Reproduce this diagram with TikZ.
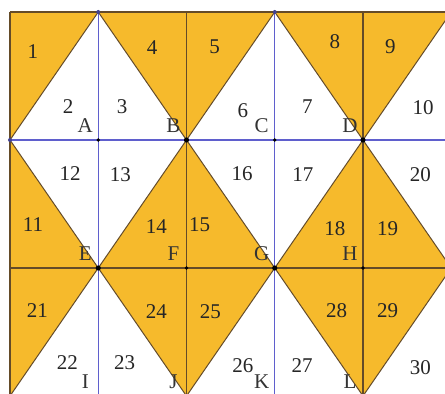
\documentclass[tikz,border=0pt]{standalone}
\usepackage{fontspec}
\setmainfont{Liberation Serif}
\definecolor{tile}{RGB}{246,186,44}
\definecolor{seam}{RGB}{100,75,40}
\definecolor{guide}{RGB}{95,95,205}
\tikzset{
  num/.style={font=\fontsize{21}{25}\selectfont, inner sep=0pt, text=black!85},
  pname/.style={font=\fontsize{21}{25}\selectfont, inner sep=0pt, text=black!80},
}
\begin{document}
\begin{tikzpicture}[x=88.25pt, y=-128pt]
      \useasboundingbox (-0.1133,-0.09375) rectangle (4.9292,2.9844);
      \clip (-0.1133,-0.09375) rectangle (4.9292,2.9844);

      % tiles
      \fill[tile] (0,0) rectangle (6,3);
      \foreach \k in {0,2,4} {
        \fill[white] (\k,1) -- (\k+1,0) -- (\k+2,1) -- cycle;
        \fill[white] (\k,1) -- (\k+1,2) -- (\k+2,1) -- cycle;
        \fill[white] (\k,3) -- (\k+1,2) -- (\k+2,3) -- cycle;
      }
      \foreach \k in {0,2,4}
      \draw[seam, line width=1pt] (\k,1) -- (\k+1,0) -- (\k+2,1) -- (\k+1,2) -- cycle
            (\k,3) -- (\k+1,2) -- (\k+2,3);

      % grid
      \draw[seam, line width=1.4pt] (0,0) -- (6,0) (0,2) -- (6,2) (0,3) -- (6,3);
      \foreach \x in {0, 2, 4}
      \draw[seam, line width=1.4pt] (\x,0) -- (\x,3);
      \foreach \x in {1, 3}
      \draw[guide, line width=1.4pt] (\x,0) -- (\x,3);
      \draw[guide, line width=1.4pt] (0,1) -- (6,1);

      % points
      \foreach \p/\x/\y in {A/1/1, B/2/1, C/3/1, D/4/1, E/1/2, F/2/2,
                            G/3/2, H/4/2, I/1/3, J/2/3, K/3/3, L/4/3}
      \coordinate (\p) at (\x,\y);
      \coordinate (T1) at (1,0);
      \coordinate (T2) at (3,0);
      \coordinate (W) at (0,1);
      \foreach \p in {B, D, E, G}
      \fill (\p) circle (2.6pt);
      \foreach \p in {A, C, F, H}
      \fill (\p) circle (1.8pt);
      \foreach \p in {T1, T2, W, I, J, K, L}
      \fill[guide!70!black] (\p) circle (2pt);
      \foreach \p in {A, B, C, D, E, F, G, H, I, J, K, L}
      \node[pname] (l\p) at ([shift={(-13pt,14pt)}]\p) {\p};

      % the numbers
      \foreach \n/\x/\y in {1/0.26/0.31, 2/0.66/0.74, 3/1.27/0.74, 4/1.61/0.28,
                            5/2.32/0.27, 6/2.64/0.77, 7/3.37/0.74, 8/3.68/0.23,
                            9/4.31/0.27, 10/4.68/0.75, 11/0.26/1.66, 12/0.68/1.26,
                            13/1.25/1.27, 14/1.66/1.68, 15/2.15/1.66, 16/2.63/1.26,
                            17/3.32/1.27, 18/3.68/1.69, 19/4.28/1.69, 20/4.65/1.27,
                            21/0.31/2.33, 22/0.65/2.74, 23/1.30/2.74, 24/1.66/2.34,
                            25/2.27/2.34, 26/2.64/2.76, 27/3.31/2.76, 28/3.70/2.33,
                            29/4.28/2.33, 30/4.65/2.78}
      \node[num] (n\n) at (\x,\y) {\n};
    \end{tikzpicture}
\end{document}
